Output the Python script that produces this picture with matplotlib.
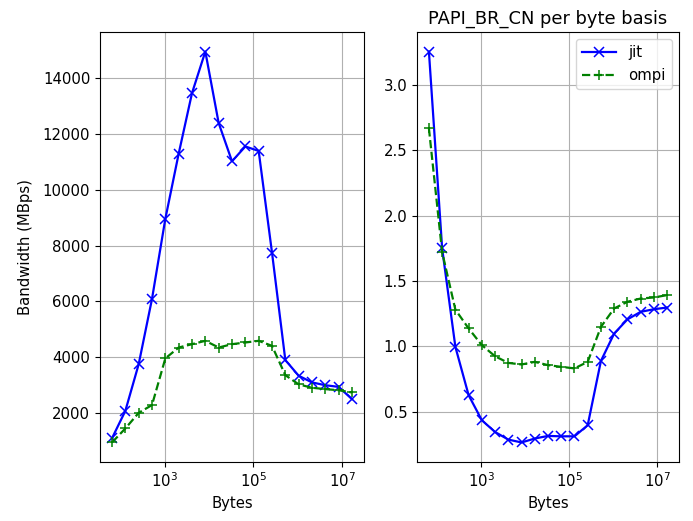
import matplotlib
matplotlib.use("Agg")
import matplotlib.pyplot as plt
import matplotlib.ticker as mticker
import numpy as np

plt.rcParams['font.size'] = 10.7
plt.rcParams['lines.linewidth'] = 1.6
plt.rcParams['lines.markersize'] = 7
plt.rcParams['lines.markeredgewidth'] = 1.1

sizes = [2 ** k for k in range(6, 25)]

bw_jit = [1100, 2080, 3750, 6090, 8960, 11290, 13460, 14950, 12390, 11020,
          11550, 11390, 7750, 3900, 3340, 3100, 3000, 2940, 2500]
bw_ompi = [950, 1450, 2010, 2290, 3960, 4350, 4470, 4590, 4350, 4470,
           4530, 4590, 4410, 3360, 3030, 2910, 2860, 2820, 2740]

br_jit = [3.256, 1.749, 0.995, 0.625, 0.433, 0.343, 0.285, 0.263, 0.293, 0.313,
          0.31, 0.31, 0.395, 0.887, 1.097, 1.205, 1.263, 1.283, 1.296]
br_ompi = [2.668, 1.72, 1.28, 1.136, 1.008, 0.923, 0.872, 0.86, 0.88, 0.855,
           0.842, 0.83, 0.88, 1.148, 1.289, 1.34, 1.365, 1.373, 1.391]

xticks = [1e3, 1e5, 1e7]

fig = plt.figure(figsize=(6.93, 5.21), dpi=100)
ax1 = fig.add_axes([100/693, 1-462/521, 264/693, 430/521])
ax2 = fig.add_axes([417/693, 1-462/521, 262/693, 430/521])

for ax in (ax1, ax2):
    ax.set_xscale('log')

ax1.plot(sizes, bw_jit, 'bx-', label='jit')
ax1.plot(sizes, bw_ompi, 'g+--', label='ompi')
ax1.set_xlabel('Bytes')
ax1.set_ylabel('Bandwidth (MBps)', labelpad=7)

ax2.plot(sizes, br_jit, 'bx-', label='jit')
ax2.plot(sizes, br_ompi, 'g+--', label='ompi')
ax2.set_xlabel('Bytes')
ax2.set_title('PAPI_BR_CN per byte basis')
ax2.legend(loc='upper right', handlelength=2.3)

for ax in (ax1, ax2):
    ax.xaxis.set_major_locator(mticker.FixedLocator(xticks))
    ax.xaxis.set_minor_locator(mticker.NullLocator())
    ax.xaxis.set_major_formatter(mticker.LogFormatterSciNotation())
    ax.grid(True)

fig.savefig('out.png', dpi=100)
